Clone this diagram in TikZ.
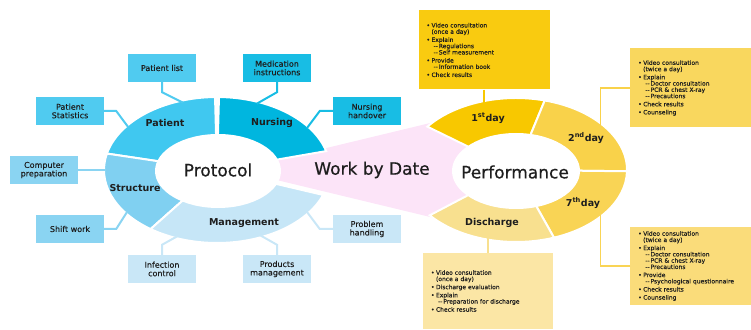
\documentclass[tikz,border=0pt]{standalone}
\usepackage{fontspec}
\setmainfont{DejaVu Sans}
\newfontfamily\titlefont{DejaVu Sans}[FakeBold=0.7]
\newfontfamily\boxfont{DejaVu Sans}[FakeBold=0.25]
\usepackage{tikz}

\definecolor{patientblue}{HTML}{40C8F0}
\definecolor{nursingblue}{HTML}{00B6DF}
\definecolor{structblue}{HTML}{80D0F1}
\definecolor{managblue}{HTML}{C6E6F7}
\definecolor{patientbox}{HTML}{50CBF0}
\definecolor{nursebox}{HTML}{18BDE4}
\definecolor{structbox}{HTML}{8AD4F2}
\definecolor{managbox}{HTML}{C9E7F7}
\definecolor{workpink}{HTML}{FCE4F8}
\definecolor{dayone}{HTML}{F8C800}
\definecolor{daytwo}{HTML}{F9D24A}
\definecolor{dayseven}{HTML}{F9D455}
\definecolor{dischy}{HTML}{F8E08F}
\definecolor{dayonebox}{HTML}{F9CB10}
\definecolor{daytwobox}{HTML}{F9D75E}
\definecolor{daysevenbox}{HTML}{FADC7A}
\definecolor{dischbox}{HTML}{FBE6A5}
\definecolor{inkdark}{HTML}{1E1E1E}

\newcommand{\bulitm}{\makebox[5pt][l]{\textbullet}}
\newcommand{\contln}{\hspace*{5pt}}
\newcommand{\subitm}{\hspace*{7pt}--\,}

\tikzset{
  ringgap/.style={draw=white, line width=2pt},
  sector/.style={font=\fontsize{9.5}{11}\selectfont\bfseries, text=inkdark},
  bigtitle/.style={font=\titlefont\fontsize{17}{20}\selectfont, text=inkdark},
  lbox/.style={minimum width=68pt, minimum height=28pt, inner sep=0pt, align=center,
    font=\boxfont\fontsize{8}{8.5}\selectfont, text=inkdark},
  daybox/.style={inner xsep=8pt, inner ysep=0pt, align=left,
    font=\boxfont\fontsize{6}{6.3}\selectfont, text=inkdark},
  link/.style={line width=2pt},
  daylink/.style={line width=1.5pt}
}

\begin{document}
\begin{tikzpicture}[x=1pt,y=1pt]
\useasboundingbox (0,0) rectangle (751,329);

\coordinate (lc) at (217,159);
\coordinate (rc) at (516,159);

% band between the two rings
\fill[workpink] (260,165) -- (480,218) -- (520,159) -- (480,100) -- (260,153) -- cycle;

% left ring
\foreach \a/\b/\c in {91/167/patientblue,15/89/nursingblue,167/234/structblue,234/340/managblue}
  \filldraw[fill=\c, ringgap] (lc) -- ++(\a:113 and 73)
    arc[start angle=\a, end angle=\b, x radius=113, y radius=73] -- cycle;
\fill[white] (218,158) ellipse[x radius=63, y radius=37];

% right ring
\foreach \a/\b/\c in {75/143/dayone,-1/75/daytwo,-70/-1/dayseven,219/290/dischy}
  \filldraw[fill=\c, ringgap] (rc) -- ++(\a:111 and 72)
    arc[start angle=\a, end angle=\b, x radius=111, y radius=72] -- cycle;
\fill[white] (516,158) ellipse[x radius=64, y radius=38];

\node[sector] (patient) at (165,206) {Patient};
\node[sector] (nursing) at (272,206) {Nursing};
\node[sector] (structure) at (135,141) {Structure};
\node[sector] (management) at (244,106) {Management};
\node[sector] (day1) at (488,211) {1\textsuperscript{st}day};
\node[sector] (day2) at (586,191) {2\textsuperscript{nd}day};
\node[sector] (day7) at (583,126) {7\textsuperscript{th}day};
\node[sector] (discharge) at (492,106) {Discharge};

\node[bigtitle] (protocol) at (218,159) {Protocol};
\node[bigtitle] (work) at (372,159) {Work by Date};
\node[bigtitle] (perf) at (515,157) {Performance};

% boxes round the left ring
\node[lbox, fill=patientbox] (plist) at (162,261) {Patient list};
\node[lbox, fill=patientbox] (pstat) at (70,218) {Patient\\Statistics};
\node[lbox, fill=nursebox] (medins) at (277,261) {Medication\\instructions};
\node[lbox, fill=nursebox] (nhand) at (367,218) {Nursing\\handover};
\node[lbox, fill=structbox] (comp) at (44,159) {Computer\\preparation};
\node[lbox, fill=structbox] (shift) at (70,100) {Shift work};
\node[lbox, fill=managbox] (probh) at (367,100) {Problem\\handling};
\node[lbox, fill=managbox] (infec) at (162,60) {Infection\\control};
\node[lbox, fill=managbox] (prodm) at (277,60) {Products\\management};

\path (lc) ++(108:111 and 71) coordinate (plistr);
\path (lc) ++(69:111 and 71) coordinate (medinsr);
\path (lc) ++(143:111 and 71) coordinate (pstatr);
\path (lc) ++(36:111 and 71) coordinate (nhandr);
\path (lc) ++(180:111 and 71) coordinate (compr);
\path (lc) ++(216:111 and 71) coordinate (shiftr);
\path (lc) ++(324:111 and 71) coordinate (probhr);
\path (lc) ++(249:111 and 71) coordinate (infecr);
\path (lc) ++(293:111 and 71) coordinate (prodmr);

\draw[link, patientbox] (plist.south) -- ++(0,-10) -- (plistr);
\draw[link, nursebox] (medins.south) -- ++(0,-10) -- (medinsr);
\draw[link, patientbox] (pstat.east) -- ++(12,0) -- (pstatr);
\draw[link, nursebox] (nhand.west) -- ++(-13,0) -- (nhandr);
\draw[link, structbox] (comp.east) -- (compr);
\draw[link, structbox] (shift.east) -- ++(12,0) -- (shiftr);
\draw[link, managbox] (probh.west) -- ++(-13,0) -- (probhr);
\draw[link, managbox] (infec.north) -- ++(0,10) -- (infecr);
\draw[link, managbox] (prodm.north) -- ++(0,10) -- (prodmr);

% boxes round the right ring
\node[daybox, fill=dayonebox, text width=115pt, minimum height=79pt] (day1box) at (484,279) {%
\bulitm Video consultation\\
\contln(once a day)\\[1.8pt]
\bulitm Explain\\
\subitm Regulations\\
\subitm Self measurement\\[1.8pt]
\bulitm Provide\\
\subitm Information book\\[1.8pt]
\bulitm Check results};

\node[daybox, fill=daytwobox, anchor=west, text width=124pt, minimum height=79pt] (day2box) at (630,241) {%
\bulitm Video consultation\\
\contln(twice a day)\\[1.8pt]
\bulitm Explain\\
\subitm Doctor consultation\\
\subitm PCR \& chest X-ray\\
\subitm Precautions\\[1.8pt]
\bulitm Check results\\[1.8pt]
\bulitm Counseling};

\node[daybox, fill=daysevenbox, anchor=west, text width=124pt, minimum height=77pt] (day7box) at (630,63) {%
\bulitm Video consultation\\
\contln(twice a day)\\[1.8pt]
\bulitm Explain\\
\subitm Doctor consultation\\
\subitm PCR \& chest X-ray\\
\subitm Precautions\\[1.8pt]
\bulitm Provide\\
\subitm Psychological questionnaire\\[1.8pt]
\bulitm Check results\\[1.8pt]
\bulitm Counseling};

\node[daybox, fill=dischbox, text width=114pt, minimum height=76pt] (dischbox) at (488,38) {%
\bulitm Video consultation\\
\contln(once a day)\\[1.8pt]
\bulitm Discharge evaluation\\[1.8pt]
\bulitm Explain\\
\subitm Preparation for discharge\\[1.8pt]
\bulitm Check results};

\path (rc) ++(107:109 and 70) coordinate (day1r);
\path (rc) ++(39:109 and 70) coordinate (day2r);
\path (rc) ++(-39:109 and 70) coordinate (day7r);
\path (rc) ++(255:109 and 70) coordinate (dischr);

\draw[daylink, dayone] (day1box.south) -- (day1box.south |- day1r);
\draw[daylink, daytwo] (day2box.west) -| (day2r);
\draw[daylink, dayseven] (day7box.west) -| (day7r);
\draw[daylink, dischy] (dischbox.north) -- (dischbox.north |- dischr);

\end{tikzpicture}
\end{document}
